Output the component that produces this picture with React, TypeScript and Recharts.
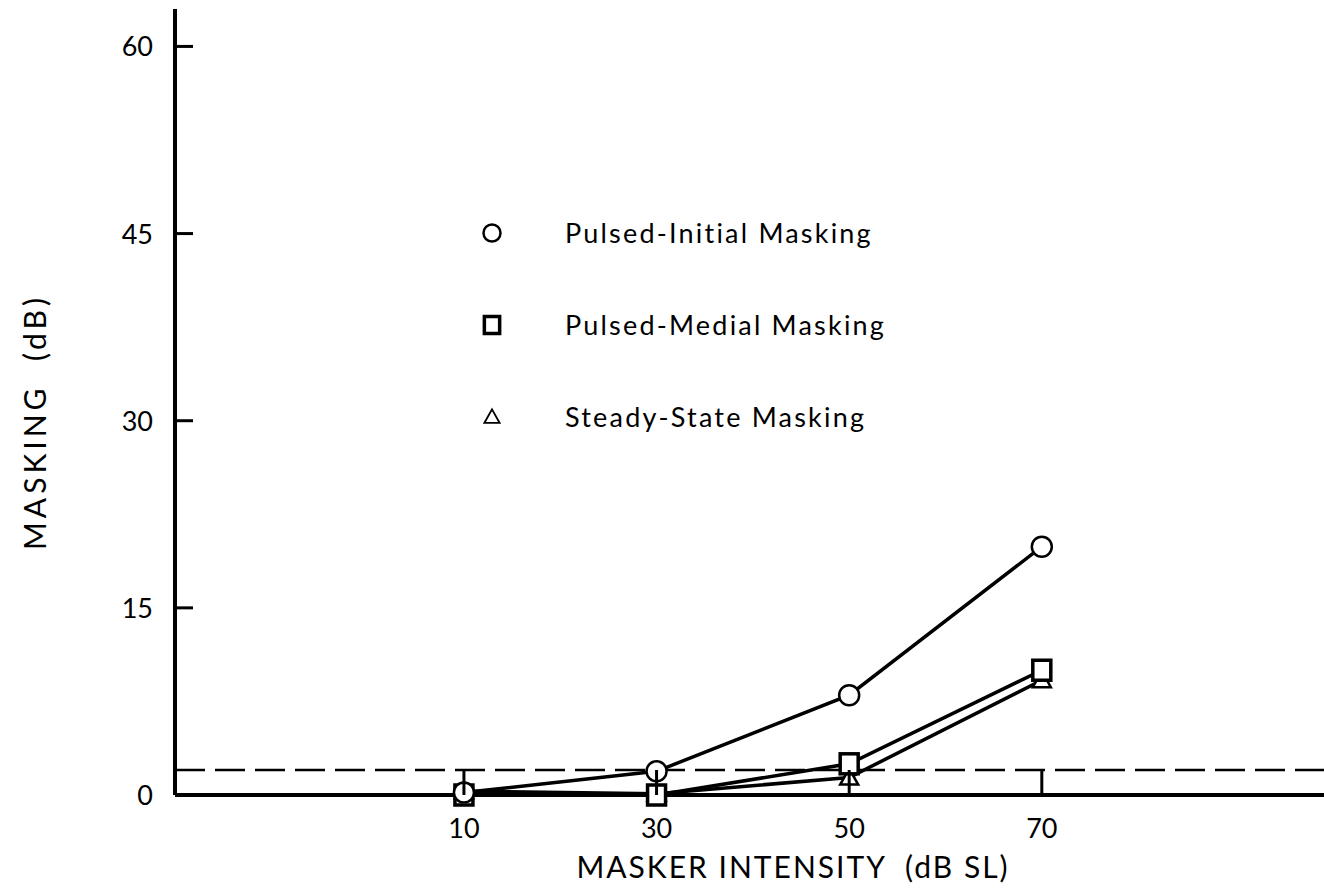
import { Label, Legend, Line, LineChart, ReferenceLine, XAxis, YAxis } from "recharts";

// masker intensity (dB SL)
const intensities = [10, 30, 50, 70];
// masking (dB) per condition
const pulsedInitial = [0.2, 1.9, 8.0, 19.9];
const pulsedMedial = [0, 0, 2.5, 10.0];
const steadyState = [0.3, 0.1, 1.4, 9.2];
const yTicks = [0, 15, 30, 45, 60];
const criterion = 2;

const legendItems = [
  { label: "Pulsed-Initial Masking", shape: "circle" },
  { label: "Pulsed-Medial Masking", shape: "square" },
  { label: "Steady-State Masking", shape: "triangle" },
];

const data = intensities.map((x, i) => ({
  x,
  initial: pulsedInitial[i],
  medial: pulsedMedial[i],
  steady: steadyState[i],
}));

const FONT = "Lato, 'Open Sans', sans-serif";

function Marker({ shape, cx, cy, small }: { shape: string; cx: number; cy: number; small?: boolean }) {
  const k = small ? 0.85 : 1;
  if (shape === "circle")
    return <circle cx={cx} cy={cy} r={10 * k} fill="#fff" stroke="#000" strokeWidth={2.5} />;
  if (shape === "square")
    return (
      <rect x={cx - 9 * k} y={cy - 10 * k} width={18 * k} height={20 * k} fill="#fff" stroke="#000" strokeWidth={3.5} />
    );
  return (
    <path
      d={`M${cx},${cy - 9 * k} L${cx + 9 * k},${cy + 7 * k} L${cx - 9 * k},${cy + 7 * k} Z`}
      fill="#fff"
      stroke="#000"
      strokeWidth={small ? 1.8 : 2.5}
    />
  );
}

function dotFor(shape: string) {
  return (p: any) => <Marker key={`${shape}-${p.index}`} shape={shape} cx={p.cx} cy={p.cy} />;
}

function YTick({ x, y, payload }: any) {
  return (
    <g>
      {payload.value !== 0 && <line x1={x} x2={x + 18} y1={y} y2={y} stroke="#000" strokeWidth={3} />}
      <text x={x - 22} y={y + 10} textAnchor="end" fontSize={27} fontFamily={FONT} fill="#000">
        {payload.value}
      </text>
    </g>
  );
}

function XTick({ x, y, payload }: any) {
  return (
    <g>
      <line x1={x} x2={x} y1={y} y2={y - 25} stroke="#000" strokeWidth={3} />
      <text x={x} y={y + 43} textAnchor="middle" fontSize={27} fontFamily={FONT} fill="#000">
        {payload.value}
      </text>
    </g>
  );
}

function LegendBox() {
  return (
    <svg width={440} height={230} style={{ overflow: "visible" }}>
      {legendItems.map((it, i) => (
        <g key={it.label}>
          <Marker shape={it.shape} cx={22} cy={28 + i * 92} small />
          <text x={95} y={38 + i * 92} fontSize={27} fontFamily={FONT} letterSpacing={2.2} fill="#000">
            {it.label}
          </text>
        </g>
      ))}
    </svg>
  );
}

export default function App() {
  return (
    <div style={{ position: "absolute", left: 0, top: 0, background: "#fff" }}>
      <LineChart width={1324} height={892} data={data} margin={{ top: 9, right: 0, bottom: 37, left: 115 }}>
        <XAxis
          dataKey="x"
          type="number"
          domain={[-20, 99.3]}
          ticks={intensities}
          height={60}
          tickLine={false}
          tickSize={0}
          tickMargin={0}
          tick={<XTick />}
          axisLine={{ stroke: "#000", strokeWidth: 4 }}
        >
          <Label
            content={() => (
              <text
                x={793}
                y={878}
                textAnchor="middle"
                fontSize={30}
                fontFamily={FONT}
                letterSpacing={2}
                fill="#000"
                style={{ whiteSpace: "pre" }}
              >
                {"MASKER INTENSITY  (dB SL)"}
              </text>
            )}
          />
        </XAxis>
        <YAxis
          type="number"
          domain={[0, 63]}
          ticks={yTicks}
          width={60}
          tickLine={false}
          tickSize={0}
          tickMargin={0}
          tick={<YTick />}
          axisLine={{ stroke: "#000", strokeWidth: 4 }}
        >
          <Label
            content={() => (
              <text
                x={46}
                y={422}
                transform="rotate(-90 46 422)"
                textAnchor="middle"
                fontSize={30}
                fontFamily={FONT}
                letterSpacing={4}
                fill="#000"
                style={{ whiteSpace: "pre" }}
              >
                {"MASKING  (dB)"}
              </text>
            )}
          />
        </YAxis>
        <ReferenceLine y={criterion} stroke="#000" strokeWidth={2.5} strokeDasharray="30 10" />
        <Line dataKey="steady" stroke="#000" strokeWidth={3.5} dot={dotFor("triangle")} activeDot={false} isAnimationActive={false} />
        <Line dataKey="medial" stroke="#000" strokeWidth={3.5} dot={dotFor("square")} activeDot={false} isAnimationActive={false} />
        <Line dataKey="initial" stroke="#000" strokeWidth={3.5} dot={dotFor("circle")} activeDot={false} isAnimationActive={false} />
        <Legend
          content={() => <LegendBox />}
          wrapperStyle={{ position: "absolute", left: 470, top: 205, width: 440, height: 0, overflow: "visible" }}
        />
      </LineChart>
    </div>
  );
}
